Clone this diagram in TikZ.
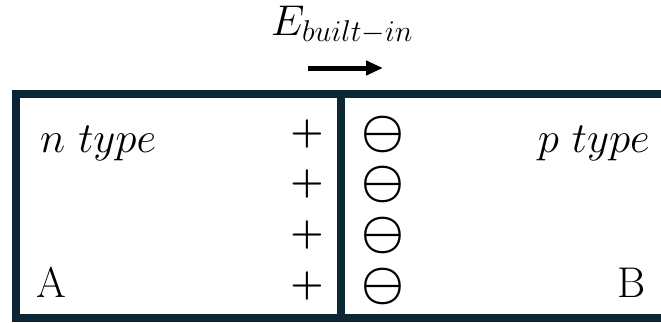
\RequirePackage{fix-cm}
\documentclass[tikz,border=0pt]{standalone}
\usetikzlibrary{arrows.meta}
\definecolor{junctionblue}{HTML}{0C2636}
\tikzset{
    typelabel/.style={font=\fontsize{43}{50}\selectfont, inner sep=0pt},
    plussign/.style={font=\fontsize{38}{44}\selectfont\boldmath, inner sep=0pt},
    minussign/.style={font=\fontsize{48}{54}\selectfont\boldmath, inner sep=0pt},
    fieldarrow/.style={-{Triangle[length=17pt,width=14pt]}, line width=5pt},
    junctionwall/.style={draw=junctionblue, line width=8pt}
}

\begin{document}
\begin{tikzpicture}[x=1pt,y=-1pt]
    \useasboundingbox (0,0) rectangle (661,322);
    \clip (0,0) rectangle (661,322);

    % field label and arrow
    \node[typelabel, anchor=base] (efield) at (342,35) {$E_{built-in}$};
    \coordinate (fieldstart) at (308,68);
    \coordinate (fieldend) at (383,68);
    \draw[fieldarrow] (fieldstart) -- (fieldend);

    % junction box
    \coordinate (boxnw) at (16,94);
    \coordinate (boxse) at (700,318);
    \coordinate (walltop) at (341,94);
    \coordinate (wallbot) at (341,318);
    \draw[junctionwall] (boxnw) rectangle (boxse);
    \draw[junctionwall] (walltop) -- (wallbot);

    % side labels
    \node[typelabel, anchor=base west] (ntype) at (40,152) {$n\ type$};
    \node[typelabel, anchor=base east] (ptype) at (650,152) {$p\ type$};
    \node[typelabel, anchor=base west] (sideA) at (36,297) {A};
    \node[typelabel, anchor=base east] (sideB) at (646,297) {B};

    % charges
    \foreach \row/\y in {1/134,2/184,3/235,4/286} {
        \node[plussign] (plus\row) at (307,\y) {$+$};
        \node[minussign] (minus\row) at (383,\y) {$\ominus$};
    }
\end{tikzpicture}
\end{document}
